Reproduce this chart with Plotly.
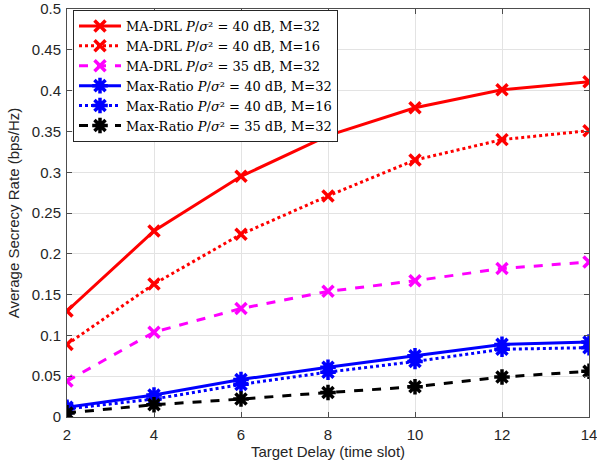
import plotly.graph_objects as go

delay = [2, 4, 6, 8, 10, 12, 14]
madrl_40_m32 = [0.130, 0.228, 0.295, 0.345, 0.379, 0.401, 0.411]
madrl_40_m16 = [0.089, 0.163, 0.224, 0.271, 0.315, 0.340, 0.351]
madrl_35_m32 = [0.044, 0.104, 0.133, 0.154, 0.167, 0.182, 0.190]
maxr_40_m32 = [0.012, 0.027, 0.046, 0.061, 0.075, 0.089, 0.092]
maxr_40_m16 = [0.010, 0.022, 0.040, 0.055, 0.068, 0.083, 0.085]
maxr_35_m32 = [0.005, 0.015, 0.022, 0.030, 0.037, 0.049, 0.056]

yticks = [0, 0.05, 0.1, 0.15, 0.2, 0.25, 0.3, 0.35, 0.4, 0.45, 0.5]
yticklabels = ["0", "0.05", "0.1", "0.15", "0.2", "0.25", "0.3", "0.35", "0.4", "0.45", "0.5"]

names = [
    "MA-DRL <i>P</i>/<i>σ</i>² = 40 dB, M=32",
    "MA-DRL <i>P</i>/<i>σ</i>² = 40 dB, M=16",
    "MA-DRL <i>P</i>/<i>σ</i>² = 35 dB, M=32",
    "Max-Ratio <i>P</i>/<i>σ</i>² = 40 dB, M=32",
    "Max-Ratio <i>P</i>/<i>σ</i>² = 40 dB, M=16",
    "Max-Ratio <i>P</i>/<i>σ</i>² = 35 dB, M=32",
]
series = [madrl_40_m32, madrl_40_m16, madrl_35_m32, maxr_40_m32, maxr_40_m16, maxr_35_m32]
colors = ["#ff0000", "#ff0000", "#ff00ff", "#0000ff", "#0000ff", "#000000"]
dashes = ["solid", "dot", "dash", "solid", "dot", "dash"]
symbols = ["x-thin-open"] * 3 + ["asterisk-open"] * 3

fig = go.Figure()
for n, s, c, d, sym in zip(names, series, colors, dashes, symbols):
    fig.add_trace(go.Scatter(
        x=delay, y=s, name=n, mode="lines+markers",
        line=dict(color=c, width=3, dash=d),
        marker=dict(symbol=sym, size=11 if sym.startswith("x") else 13,
                    color=c, line=dict(color=c, width=3.5)),
    ))

axis_common = dict(
    showline=True, linecolor="#4d4d4d", linewidth=1, mirror="ticks",
    ticks="inside", ticklen=5, tickcolor="#4d4d4d",
    showgrid=True, gridcolor="#e3e3e3", gridwidth=1, zeroline=False,
    automargin=False, ticklabeloverflow="allow",
    tickfont=dict(family="Liberation Sans, Arial", size=15, color="#262626"),
)

fig.update_layout(
    width=597, height=472,
    margin=dict(l=67, r=8, t=9, b=55),
    paper_bgcolor="white", plot_bgcolor="white",
    xaxis=dict(range=[2, 14], tickvals=delay, ticklabelstandoff=4,
               title=dict(text="Target Delay (time slot)", standoff=4,
                          font=dict(family="Liberation Sans, Arial", size=15, color="#262626")),
               **axis_common),
    yaxis=dict(range=[0, 0.5001], tickvals=yticks, ticktext=yticklabels,
               ticklabelstandoff=2,
               title=dict(text="Average Secrecy Rate (bps/Hz)", standoff=8,
                          font=dict(family="Liberation Sans, Arial", size=15, color="#262626")),
               **axis_common),
    legend=dict(x=0.0115, y=0.9976, xanchor="left", yanchor="top",
                bgcolor="white", bordercolor="#262626", borderwidth=1,
                font=dict(family="DejaVu Serif", size=13, color="#000000"),
                tracegroupgap=0, itemwidth=42),
    showlegend=True,
)

fig.write_html("out.html")
